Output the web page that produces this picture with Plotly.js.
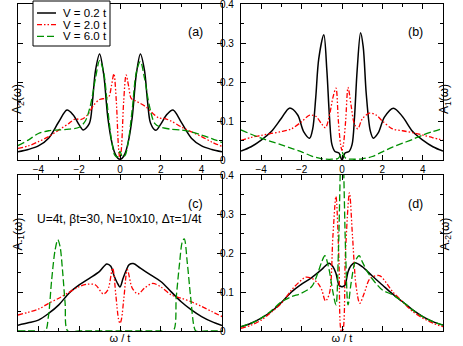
<!DOCTYPE html>
<html>
<head>
<meta charset="utf-8">
<script src="https://cdn.plot.ly/plotly-3.0.1.min.js"></script>
<style>
html, body { margin: 0; padding: 0; background: #fff; }
#graph { width: 463px; height: 346px; }
</style>
</head>
<body>
<div id="graph"></div>
<script>
// legend names
const names = ['V = 0.2 t', 'V = 2.0 t', 'V = 6.0 t'];

// panel (a): A_2(w)
const aX_black = [-5, -4.5, -4, -3.5, -3, -2.6, -2.3, -2, -1.8, -1.5, -1.35, -1.2, -1.0, -0.8, -0.6, -0.4, -0.25, -0.1, 0, 0.1, 0.25, 0.4, 0.6, 0.8, 1.0, 1.2, 1.35, 1.5, 1.75, 2.0, 2.3, 2.6, 3, 3.5, 4, 4.5, 5];
const aY_black = [0.021, 0.027, 0.036, 0.056, 0.098, 0.128, 0.116, 0.09, 0.077, 0.094, 0.15, 0.23, 0.272, 0.22, 0.11, 0.045, 0.017, 0.004, 0.002, 0.004, 0.017, 0.045, 0.11, 0.22, 0.272, 0.23, 0.15, 0.094, 0.076, 0.092, 0.117, 0.128, 0.097, 0.056, 0.036, 0.027, 0.021];
const aX_red = [-5, -4.5, -4, -3.5, -3, -2.5, -2.2, -1.9, -1.6, -1.3, -1.0, -0.75, -0.55, -0.42, -0.3, -0.18, -0.07, 0, 0.07, 0.18, 0.3, 0.42, 0.55, 0.75, 1.0, 1.3, 1.6, 1.9, 2.2, 2.5, 3, 3.5, 4, 4.5, 5];
const aY_red = [0.03, 0.036, 0.047, 0.06, 0.077, 0.094, 0.105, 0.104, 0.115, 0.14, 0.155, 0.158, 0.162, 0.19, 0.221, 0.15, 0.03, 0.003, 0.03, 0.15, 0.218, 0.19, 0.158, 0.152, 0.145, 0.135, 0.12, 0.108, 0.106, 0.1, 0.085, 0.072, 0.06, 0.046, 0.035];
const aX_green = [-5, -4.5, -4, -3.5, -3, -2.5, -2, -1.7, -1.45, -1.2, -1.0, -0.8, -0.6, -0.4, -0.25, -0.12, 0, 0.12, 0.25, 0.4, 0.6, 0.8, 1.0, 1.2, 1.45, 1.7, 2, 2.5, 3, 3.5, 4, 4.5, 5];
const aY_green = [0.037, 0.051, 0.068, 0.075, 0.077, 0.079, 0.084, 0.1, 0.14, 0.21, 0.255, 0.225, 0.13, 0.045, 0.012, 0.008, 0.022, 0.008, 0.012, 0.045, 0.13, 0.225, 0.253, 0.21, 0.137, 0.094, 0.084, 0.079, 0.077, 0.072, 0.064, 0.055, 0.045];

// panel (b): A_1(w)
const bX_black = [-5, -4.5, -4, -3.5, -3, -2.6, -2.2, -1.9, -1.6, -1.45, -1.3, -1.15, -0.9, -0.75, -0.62, -0.5, -0.35, -0.15, 0, 0.15, 0.35, 0.5, 0.62, 0.75, 0.92, 1.05, 1.2, 1.4, 1.55, 1.8, 2.1, 2.55, 3, 3.5, 4, 4.5, 5];
const bY_black = [0.023, 0.034, 0.051, 0.073, 0.107, 0.133, 0.116, 0.073, 0.056, 0.08, 0.16, 0.26, 0.321, 0.23, 0.11, 0.04, 0.022, 0.018, 0.0, 0.018, 0.022, 0.04, 0.11, 0.23, 0.326, 0.29, 0.17, 0.075, 0.056, 0.07, 0.11, 0.133, 0.111, 0.073, 0.051, 0.034, 0.023];
const bX_red = [-5, -4.5, -4, -3.5, -3, -2.5, -2, -1.6, -1.3, -1.0, -0.82, -0.6, -0.45, -0.3, -0.18, -0.07, 0, 0.07, 0.18, 0.3, 0.45, 0.6, 0.78, 1.0, 1.35, 1.7, 2, 2.5, 3, 3.5, 4, 4.5, 5];
const bY_red = [0.05, 0.058, 0.063, 0.068, 0.073, 0.08, 0.098, 0.115, 0.112, 0.092, 0.083, 0.12, 0.16, 0.184, 0.1, 0.04, 0.025, 0.04, 0.1, 0.186, 0.14, 0.095, 0.08, 0.105, 0.12, 0.115, 0.1, 0.08, 0.075, 0.07, 0.064, 0.057, 0.051];
const bX_green = [-5, -4.5, -4, -3.5, -3, -2.5, -2, -1.5, -1, -0.5, -0.2, -0.08, 0, 0.08, 0.2, 0.5, 1, 1.5, 2, 2.5, 3, 3.5, 4, 4.5, 5];
const bY_green = [0.077, 0.066, 0.056, 0.047, 0.039, 0.03, 0.021, 0.01, 0.003, 0.002, 0.004, 0.012, 0.02, 0.012, 0.004, 0.002, 0.003, 0.009, 0.021, 0.033, 0.043, 0.053, 0.064, 0.073, 0.081];

// panel (c): A_-1(w)
const cX_black = [-5, -4.5, -4, -3.5, -3, -2.5, -2, -1.5, -1, -0.65, -0.45, -0.3, -0.15, 0, 0.15, 0.3, 0.45, 0.65, 1, 1.5, 2, 2.5, 3, 3.5, 4, 4.5, 5];
const cY_black = [0.015, 0.021, 0.028, 0.045, 0.067, 0.097, 0.118, 0.135, 0.153, 0.172, 0.166, 0.143, 0.125, 0.113, 0.135, 0.155, 0.17, 0.173, 0.161, 0.144, 0.127, 0.101, 0.075, 0.054, 0.037, 0.024, 0.014];
const cX_red = [-5, -4.5, -4, -3.5, -3, -2.5, -2, -1.6, -1.2, -0.82, -0.6, -0.36, -0.2, -0.07, 0, 0.07, 0.2, 0.36, 0.6, 0.88, 1.2, 1.6, 2, 2.5, 3, 3.5, 4, 4.5, 5];
const cY_red = [0.041, 0.048, 0.056, 0.071, 0.084, 0.099, 0.114, 0.12, 0.118, 0.095, 0.105, 0.161, 0.09, 0.03, 0.02, 0.03, 0.09, 0.157, 0.11, 0.095, 0.11, 0.122, 0.113, 0.093, 0.084, 0.075, 0.063, 0.05, 0.037];
const cX_green = [-5, -4.2, -3.67, -3.51, -3.35, -3.18, -3.05, -2.94, -2.82, -2.69, -2.56, -2.0, 0, 2.0, 2.6, 2.76, 2.92, 3.05, 3.15, 3.3, 3.46, 3.63, 3.72, 4.3, 5];
const cY_green = [0, 0, 0, 0.037, 0.131, 0.208, 0.234, 0.217, 0.157, 0.071, 0, 0, 0, 0, 0, 0.088, 0.174, 0.228, 0.236, 0.174, 0.088, 0.011, 0, 0, 0];

// panel (d): A_-2(w)
const dX_black = [-5, -4.5, -4, -3.5, -3, -2.5, -2, -1.5, -1, -0.64, -0.45, -0.3, -0.15, -0.05, 0.05, 0.15, 0.3, 0.45, 0.64, 1, 1.5, 2, 2.5, 3, 3.5, 4, 4.5, 5];
const dY_black = [0.011, 0.02, 0.033, 0.05, 0.073, 0.1, 0.12, 0.137, 0.158, 0.174, 0.165, 0.148, 0.118, 0.114, 0.114, 0.118, 0.152, 0.168, 0.175, 0.165, 0.141, 0.118, 0.095, 0.075, 0.054, 0.037, 0.024, 0.015];
const dX_red = [-5, -4.5, -4, -3.5, -3, -2.5, -2, -1.8, -1.5, -1.2, -1, -0.82, -0.62, -0.45, -0.3, -0.15, -0.03, 0.03, 0.17, 0.37, 0.52, 0.7, 0.88, 1.1, 1.4, 1.85, 2.2, 2.5, 3, 3.5, 4, 4.5, 5];
const dY_red = [0.007, 0.015, 0.028, 0.048, 0.071, 0.105, 0.131, 0.138, 0.135, 0.123, 0.105, 0.077, 0.097, 0.243, 0.345, 0.18, 0.0, 0.0, 0.2, 0.354, 0.243, 0.114, 0.071, 0.097, 0.135, 0.142, 0.123, 0.101, 0.075, 0.05, 0.033, 0.02, 0.011];
const dX_green = [-5, -4.5, -4, -3.5, -3, -2.5, -2, -1.5, -1.2, -1.0, -0.85, -0.65, -0.45, -0.3, -0.18, -0.08, 0, 0.08, 0.18, 0.3, 0.45, 0.65, 0.85, 1.0, 1.3, 1.6, 2, 2.5, 3, 3.5, 4, 4.5, 5];
const dY_green = [0.011, 0.02, 0.033, 0.052, 0.075, 0.088, 0.097, 0.114, 0.148, 0.178, 0.193, 0.16, 0.1, 0.067, 0.2, 0.42, 0.55, 0.42, 0.2, 0.067, 0.123, 0.178, 0.193, 0.178, 0.148, 0.127, 0.105, 0.093, 0.075, 0.054, 0.037, 0.024, 0.015];

const lineStyles = [
  { color: 'black', width: 1.5, dash: 'solid' },
  { color: '#ff0000', width: 1.3, dash: '5px,2px,1.5px,2px,1.5px,2px' },
  { color: '#009000', width: 1.3, dash: '7px,3px' }
];

const panels = [
  { xa: 'x', ya: 'y', xs: [aX_black, aX_red, aX_green], ys: [aY_black, aY_red, aY_green] },
  { xa: 'x2', ya: 'y2', xs: [bX_black, bX_red, bX_green], ys: [bY_black, bY_red, bY_green] },
  { xa: 'x3', ya: 'y3', xs: [cX_black, cX_red, cX_green], ys: [cY_black, cY_red, cY_green] },
  { xa: 'x4', ya: 'y4', xs: [dX_black, dX_red, dX_green], ys: [dY_black, dY_red, dY_green] }
];

const traces = [];
panels.forEach(p => {
  for (let k = 0; k < 3; k++) {
    traces.push({
      x: p.xs[k], y: p.ys[k],
      xaxis: p.xa, yaxis: p.ya,
      type: 'scatter', mode: 'lines',
      name: names[k],
      showlegend: false,
      line: Object.assign({ shape: 'spline', smoothing: 0.9 }, lineStyles[k])
    });
  }
});

const font = 'Liberation Sans, Arial, sans-serif';
function axis(extra) {
  return Object.assign({
    showline: true, linecolor: 'black', linewidth: 1, mirror: 'ticks',
    ticks: 'inside', ticklen: 5, tickcolor: 'black', tickwidth: 1,
    showgrid: false, zeroline: false, fixedrange: true, automargin: false,
    ticklabeloverflow: 'allow',
    tickfont: { size: 10, family: font, color: 'black' }
  }, extra);
}
const xBase = { range: [-5, 5], dtick: 2, tick0: 0, minor: { ticks: 'inside', ticklen: 3, dtick: 1, tick0: 0, tickcolor: 'black', showgrid: false } };
const yBase = { range: [0, 0.4], dtick: 0.1, tick0: 0, minor: { ticks: 'inside', ticklen: 3, dtick: 0.05, tick0: 0, tickcolor: 'black', showgrid: false } };

const xL = [18 / 463, 222 / 463], xR = [241 / 463, 443 / 463];
const yT = [186 / 346, 342 / 346], yB = [15 / 346, 171 / 346];
const xTitle = { text: 'ω / t', font: { size: 11, family: font, color: 'black' }, standoff: 3 };

// hand-made legend box inside panel (a), sized like the original
const legTop = 1, legRow = 11.7, legLeft = 33;
const shapes = [
  { type: 'rect', xref: 'paper', yref: 'paper', x0: legLeft / 463, x1: 110 / 463, y0: (346 - 46) / 346, y1: (346 - legTop) / 346,
    line: { color: 'black', width: 1 }, fillcolor: 'white', layer: 'above' }
];
const legendNotes = [];
names.forEach((n, k) => {
  const py = legTop + 12 + k * legRow;
  shapes.push({ type: 'line', xref: 'paper', yref: 'paper', x0: 37 / 463, x1: 56 / 463, y0: (346 - py) / 346, y1: (346 - py) / 346,
    line: { color: lineStyles[k].color, width: lineStyles[k].width, dash: lineStyles[k].dash }, layer: 'above' });
  legendNotes.push({ text: n, xref: 'paper', yref: 'paper', x: 61 / 463, y: (346 - py) / 346, xanchor: 'left', yanchor: 'middle',
    showarrow: false, font: { size: 11.5, family: font, color: 'black' } });
});

const layout = {
  width: 463, height: 346,
  margin: { l: 0, r: 0, t: 0, b: 0 },
  paper_bgcolor: 'white', plot_bgcolor: 'rgba(0,0,0,0)',
  font: { family: font, color: 'black' },
  xaxis: axis(Object.assign({ domain: xL, anchor: 'y' }, xBase)),
  xaxis2: axis(Object.assign({ domain: xR, anchor: 'y2' }, xBase)),
  xaxis3: axis(Object.assign({ domain: xL, anchor: 'y3', showticklabels: false, title: xTitle }, xBase)),
  xaxis4: axis(Object.assign({ domain: xR, anchor: 'y4', showticklabels: false, title: xTitle }, xBase)),
  // value labels sit in the gap between the columns, left-aligned after the left panels
  yaxis: axis(Object.assign({ domain: yT, anchor: 'x', side: 'right', ticklabelstandoff: -5 }, yBase)),
  yaxis2: axis(Object.assign({ domain: yT, anchor: 'x2', showticklabels: false }, yBase)),
  yaxis3: axis(Object.assign({ domain: yB, anchor: 'x3', side: 'right', ticklabelstandoff: -5 }, yBase)),
  yaxis4: axis(Object.assign({ domain: yB, anchor: 'x4', showticklabels: false }, yBase)),
  showlegend: false,
  shapes: shapes,
  annotations: [
    { text: '(a)', xref: 'x domain', yref: 'y domain', x: 0.917, y: 0.878, showarrow: false, font: { size: 12.5, family: font } },
    { text: '(b)', xref: 'x2 domain', yref: 'y2 domain', x: 0.912, y: 0.878, showarrow: false, font: { size: 12.5, family: font } },
    { text: '(c)', xref: 'x3 domain', yref: 'y3 domain', x: 0.917, y: 0.872, showarrow: false, font: { size: 12.5, family: font } },
    { text: '(d)', xref: 'x4 domain', yref: 'y4 domain', x: 0.912, y: 0.872, showarrow: false, font: { size: 12.5, family: font } },
    { text: 'U=4t, βt=30, N=10x10, Δτ=1/4t', xref: 'x3 domain', yref: 'y3 domain', x: 0.083, y: 0.776, xanchor: 'left', showarrow: false, font: { size: 12, family: font } },
    { text: 'A<sub>2</sub>(ω)', xref: 'paper', yref: 'paper', x: 8 / 463, y: (346 - 82) / 346, textangle: -90, showarrow: false, font: { size: 12, family: font } },
    { text: 'A<sub>1</sub>(ω)', xref: 'paper', yref: 'paper', x: 455 / 463, y: (346 - 82) / 346, textangle: -90, showarrow: false, font: { size: 12, family: font } },
    { text: 'A<sub>-1</sub>(ω)', xref: 'paper', yref: 'paper', x: 8 / 463, y: (346 - 253) / 346, textangle: -90, showarrow: false, font: { size: 12, family: font } },
    { text: 'A<sub>-2</sub>(ω)', xref: 'paper', yref: 'paper', x: 455 / 463, y: (346 - 253) / 346, textangle: -90, showarrow: false, font: { size: 12, family: font } }
  ].concat(legendNotes)
};

Plotly.newPlot('graph', traces, layout, { staticPlot: true, displayModeBar: false });
</script>
</body>
</html>
